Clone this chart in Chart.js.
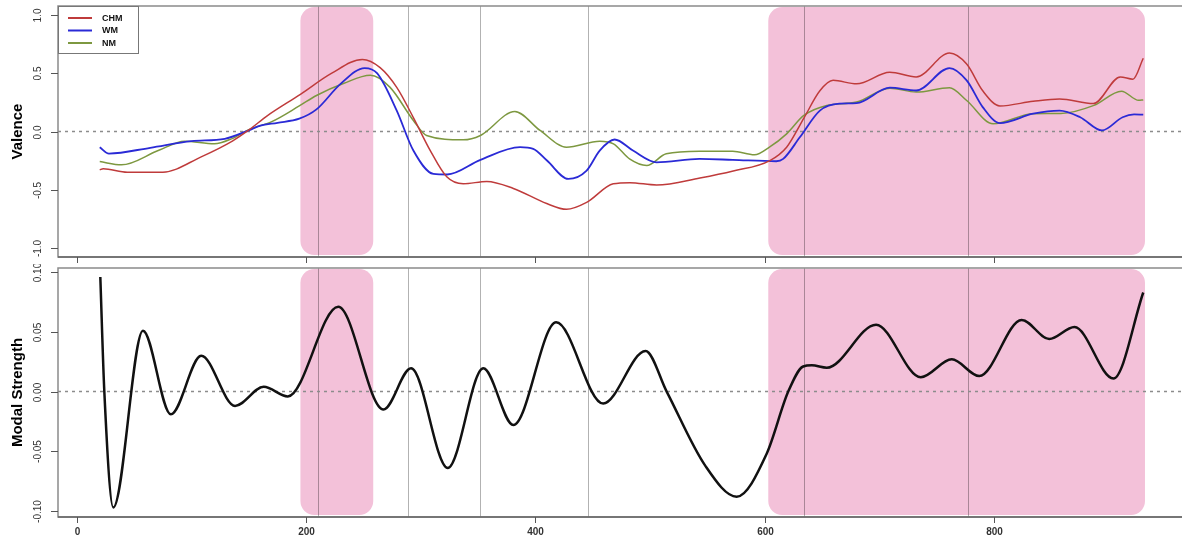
<!DOCTYPE html>
<html>
<head>
<meta charset="utf-8">
<script src="https://cdn.jsdelivr.net/npm/chart.js@4.4.1/dist/chart.umd.min.js"></script>
<style>
  html, body { margin: 0; padding: 0; background: #fff; overflow: hidden; }
  #wrap { position: relative; width: 1182px; height: 542px; overflow: hidden; }
  canvas { position: absolute; left: 0; }
</style>
</head>
<body>
<div id="wrap">
  <canvas id="valence" width="1200" height="264" style="top:0"></canvas>
  <canvas id="modal" width="1200" height="278" style="top:264px"></canvas>
</div>
<script>
// time axis ticks
const xTicks = [0, 200, 400, 600, 800];

// shaded regions and marker lines (x units)
const shadeFrom = [195, 603];
const shadeTo = [258.5, 931.5];
const markers = [210, 289, 352, 445.8, 634.4, 777.4];

// Valence - CHM
const chmX = [20, 23, 44, 75, 108, 136, 151, 166, 195, 222, 249, 264.5, 279, 293.5, 308, 322.6, 337, 357.5, 380.7, 409.8, 427, 444.6, 467.8, 482.4, 505.6, 543.4, 572.4, 604.4, 619, 634.3, 648, 659.5, 680, 709, 732, 761, 776, 790, 805, 834, 857, 886.5, 910, 921, 930];
const chmY = [-0.33, -0.32, -0.35, -0.35, -0.22, -0.08, 0.02, 0.135, 0.32, 0.50, 0.62, 0.55, 0.38, 0.12, -0.16, -0.39, -0.45, -0.43, -0.49, -0.62, -0.67, -0.61, -0.45, -0.44, -0.46, -0.40, -0.34, -0.25, -0.135, 0.12, 0.35, 0.44, 0.41, 0.51, 0.47, 0.675, 0.58, 0.35, 0.22, 0.26, 0.28, 0.24, 0.47, 0.45, 0.63];

// Valence - WM
const wmX = [20, 28, 64, 100, 129, 150, 160, 175, 194, 209, 230, 251, 262, 279, 293.5, 311, 323, 352, 386.5, 398, 410, 428.6, 444.6, 456, 469, 485, 505.6, 543, 572, 610, 616, 630.5, 648, 665, 680, 709, 732, 761, 776, 790, 805, 834, 857, 875, 894, 912, 922, 930];
const wmY = [-0.135, -0.19, -0.14, -0.083, -0.063, 0.01, 0.05, 0.075, 0.11, 0.19, 0.41, 0.546, 0.5, 0.18, -0.164, -0.365, -0.37, -0.244, -0.135, -0.149, -0.25, -0.408, -0.336, -0.164, -0.069, -0.164, -0.265, -0.236, -0.244, -0.256, -0.236, -0.05, 0.18, 0.24, 0.244, 0.377, 0.353, 0.546, 0.44, 0.21, 0.072, 0.153, 0.18, 0.123, 0.009, 0.123, 0.147, 0.145];

// Valence - NM
const nmX = [20, 39, 71, 94, 120, 135, 150, 170, 194, 209, 233, 256, 273, 293.5, 305, 337, 352, 382, 404, 427, 456, 468, 482, 497, 514, 543, 572, 591, 604, 619, 634, 654, 680, 709, 732, 761, 776, 799, 834, 858, 887, 911, 926, 930];
const nmY = [-0.259, -0.287, -0.164, -0.083, -0.106, -0.063, 0.015, 0.085, 0.22, 0.31, 0.415, 0.483, 0.382, 0.095, -0.034, -0.072, -0.034, 0.172, 0.009, -0.135, -0.083, -0.106, -0.236, -0.293, -0.192, -0.17, -0.17, -0.201, -0.135, -0.02, 0.138, 0.224, 0.253, 0.373, 0.339, 0.377, 0.267, 0.066, 0.153, 0.155, 0.225, 0.347, 0.268, 0.272];

// Modal strength
const msX = [20.5, 24, 31.8, 57.7, 82, 108.5, 138, 163, 184, 228, 267.4, 291.5, 323.5, 354.5, 380.7, 418, 459, 496, 514.4, 548, 575.4, 601.6, 620.4, 633.4, 641, 654, 697, 736, 763, 787, 824, 848, 870, 904, 930];
const msY = [0.096, 0.0, -0.097, 0.051, -0.019, 0.030, -0.012, 0.004, -0.004, 0.071, -0.015, 0.0195, -0.064, 0.0195, -0.028, 0.058, -0.010, 0.034, 0.0, -0.062, -0.088, -0.052, 0.0, 0.021, 0.022, 0.020, 0.056, 0.012, 0.027, 0.013, 0.060, 0.044, 0.054, 0.011, 0.083];

function pts(xs, ys) {
  return xs.map((v, i) => ({ x: v, y: ys[i] }));
}

// draws the R-style box, ticks, labels, shading
const rPlot = {
  id: 'rPlot',
  beforeDatasetsDraw(chart, args, opts) {
    const { ctx, chartArea: a, scales: { x, y } } = chart;
    ctx.save();
    ctx.fillStyle = '#f3c1d9';
    shadeFrom.forEach((s, i) => {
      const l = x.getPixelForValue(s), r = x.getPixelForValue(shadeTo[i]);
      ctx.beginPath();
      ctx.roundRect(l, a.top + 1, r - l, a.bottom - a.top - 3, 14);
      ctx.fill();
    });
    ctx.strokeStyle = 'rgba(0,0,0,0.3)';
    ctx.lineWidth = 1;
    markers.forEach(m => {
      const px = Math.round(x.getPixelForValue(m)) + 0.5;
      ctx.beginPath(); ctx.moveTo(px, a.top); ctx.lineTo(px, a.bottom); ctx.stroke();
    });
    ctx.setLineDash([3, 4]);
    ctx.strokeStyle = '#8c8c8c';
    ctx.lineWidth = 1.5;
    const y0 = y.getPixelForValue(0);
    ctx.beginPath(); ctx.moveTo(a.left, y0); ctx.lineTo(a.right, y0); ctx.stroke();
    ctx.restore();
  },
  afterDatasetsDraw(chart, args, opts) {
    const { ctx, chartArea: a, scales: { x, y } } = chart;
    ctx.save();
    // box
    ctx.strokeStyle = '#8a8a8a';
    ctx.lineWidth = 1.5;
    ctx.strokeRect(a.left, a.top, a.right - a.left, a.bottom - a.top);
    ctx.strokeStyle = '#666';
    ctx.beginPath(); ctx.moveTo(a.left, a.bottom); ctx.lineTo(a.right, a.bottom); ctx.stroke();
    // y ticks + rotated labels
    ctx.lineWidth = 1;
    ctx.strokeStyle = '#555';
    ctx.fillStyle = '#333';
    ctx.font = '10px "Liberation Sans", Arial, sans-serif';
    ctx.textAlign = 'center';
    ctx.textBaseline = 'middle';
    opts.yTicks.forEach((v, i) => {
      const py = Math.round(y.getPixelForValue(v)) + 0.5;
      ctx.beginPath(); ctx.moveTo(a.left - 7, py); ctx.lineTo(a.left, py); ctx.stroke();
      ctx.save();
      ctx.translate(a.left - 20, py);
      ctx.rotate(-Math.PI / 2);
      ctx.fillText(opts.yLabels[i], 0, 0);
      ctx.restore();
    });
    // x ticks
    xTicks.forEach(v => {
      const px = Math.round(x.getPixelForValue(v)) + 0.5;
      ctx.beginPath(); ctx.moveTo(px, a.bottom); ctx.lineTo(px, a.bottom + 6); ctx.stroke();
      if (opts.xLabels) {
        ctx.font = 'bold 10px "Liberation Sans", Arial, sans-serif';
        ctx.fillText(String(v), px, a.bottom + 15);
      }
    });
    // axis title
    ctx.save();
    ctx.fillStyle = '#000';
    ctx.font = 'bold 15px "Liberation Sans", Arial, sans-serif';
    ctx.translate(18, (a.top + a.bottom) / 2);
    ctx.rotate(-Math.PI / 2);
    ctx.fillText(opts.title, 0, 0);
    ctx.restore();
    // legend
    if (opts.legend) {
      ctx.strokeStyle = '#777';
      ctx.lineWidth = 1;
      ctx.strokeRect(a.left + 0.5, a.top + 0.5, 80, 47);
      ctx.font = 'bold 9px "Liberation Sans", Arial, sans-serif';
      ctx.textAlign = 'left';
      chart.data.datasets.forEach((ds, i) => {
        const ly = a.top + 12 + i * 12.5;
        ctx.strokeStyle = ds.borderColor;
        ctx.lineWidth = 2;
        ctx.beginPath(); ctx.moveTo(a.left + 10, ly); ctx.lineTo(a.left + 34, ly); ctx.stroke();
        ctx.fillStyle = '#111';
        ctx.fillText(ds.label, a.left + 44, ly + 0.5);
      });
    }
    ctx.restore();
  }
};

function lineSet(label, xs, ys, color, width) {
  return {
    label: label,
    data: pts(xs, ys),
    borderColor: color,
    borderWidth: width,
    pointRadius: 0,
    fill: false,
    cubicInterpolationMode: 'monotone'
  };
}

function baseOptions(yMin, yMax, pad, plot) {
  return {
    responsive: false,
    animation: false,
    layout: { padding: pad },
    scales: {
      x: { type: 'linear', min: -16.4, max: 966.4, display: false },
      y: { type: 'linear', min: yMin, max: yMax, display: false }
    },
    plugins: {
      legend: { display: false },
      tooltip: { enabled: false },
      rPlot: plot
    }
  };
}

new Chart(document.getElementById('valence'), {
  type: 'line',
  data: {
    datasets: [
      lineSet('CHM', chmX, chmY, '#bf3b3b', 1.5),
      lineSet('WM', wmX, wmY, '#2a2ad6', 1.8),
      lineSet('NM', nmX, nmY, '#7d9840', 1.5)
    ]
  },
  options: baseOptions(-1.08, 1.08, { left: 58, top: 6, right: 15, bottom: 7 }, {
    yTicks: [-1, -0.5, 0, 0.5, 1],
    yLabels: ['-1.0', '-0.5', '0.0', '0.5', '1.0'],
    title: 'Valence',
    xLabels: false,
    legend: true
  }),
  plugins: [rPlot]
});

new Chart(document.getElementById('modal'), {
  type: 'line',
  data: {
    datasets: [lineSet('Modal Strength', msX, msY, '#111', 2.5)]
  },
  options: baseOptions(-0.105, 0.1035, { left: 58, top: 4, right: 15, bottom: 25 }, {
    yTicks: [-0.1, -0.05, 0, 0.05, 0.1],
    yLabels: ['-0.10', '-0.05', '0.00', '0.05', '0.10'],
    title: 'Modal Strength',
    xLabels: true,
    legend: false
  }),
  plugins: [rPlot]
});
</script>
</body>
</html>
